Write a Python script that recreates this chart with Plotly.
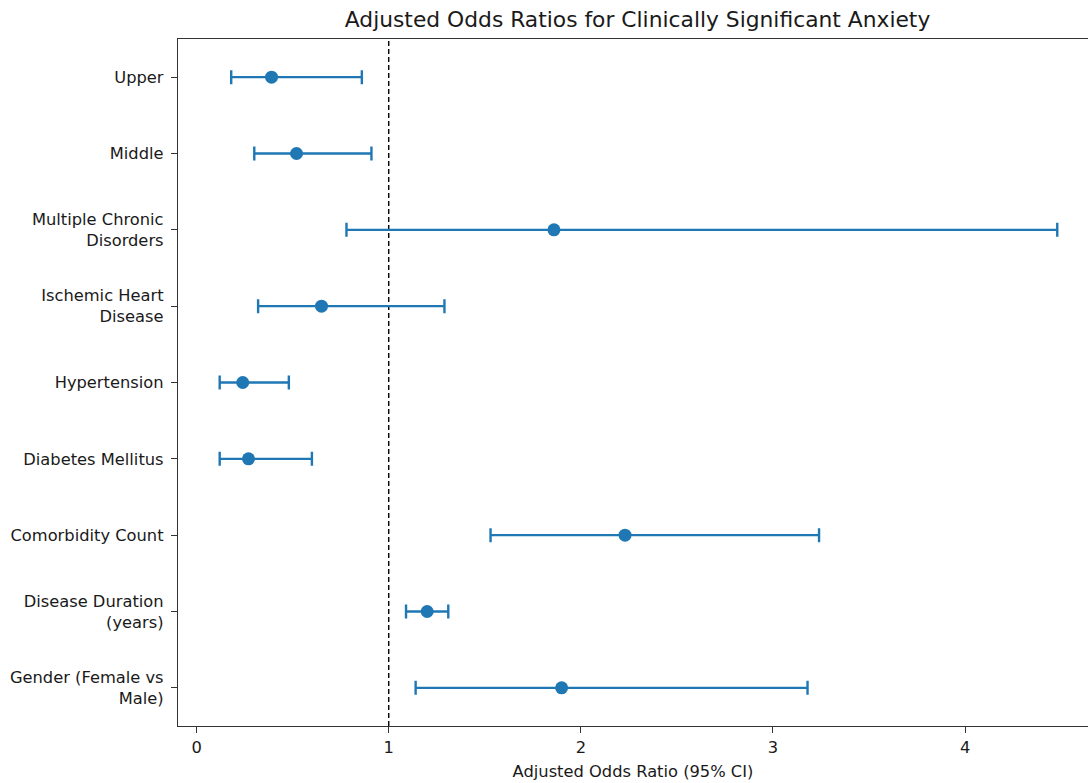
import plotly.graph_objects as go

# Data (top to bottom as displayed)
labels = ["Upper", "Middle", "Multiple Chronic<br>Disorders", "Ischemic Heart<br>Disease",
          "Hypertension", "Diabetes Mellitus", "Comorbidity Count",
          "Disease Duration<br>(years)", "Gender (Female vs<br>Male)"]
odds_ratio = [0.39, 0.52, 1.86, 0.65, 0.24, 0.27, 2.23, 1.20, 1.90]
ci_lower = [0.18, 0.30, 0.78, 0.32, 0.12, 0.12, 1.53, 1.09, 1.14]
ci_upper = [0.86, 0.91, 4.48, 1.29, 0.48, 0.60, 3.24, 1.31, 3.18]

n = len(labels)
ypos = [n - 1 - i for i in range(n)]
err_plus = [u - o for u, o in zip(ci_upper, odds_ratio)]
err_minus = [o - l for o, l in zip(odds_ratio, ci_lower)]

color = "#1f77b4"
font_family = "DejaVu Sans, Liberation Sans, sans-serif"

fig = go.Figure()
fig.add_trace(go.Scatter(
    x=odds_ratio, y=ypos, mode="markers",
    marker=dict(color=color, size=13),
    error_x=dict(type="data", symmetric=False, array=err_plus, arrayminus=err_minus,
                 color=color, thickness=2.4, width=7),
    showlegend=False,
))

fig.add_shape(type="line", xref="x", yref="paper", x0=1, x1=1, y0=0, y1=1,
              line=dict(color="black", width=1.4, dash="5px,3px"), layer="below")

fig.update_layout(
    width=1088, height=783,
    margin=dict(l=178, r=0, t=39, b=57),
    plot_bgcolor="white", paper_bgcolor="white",
    font=dict(family=font_family, size=16.3, color="#1a1a1a"),
    title=dict(text="Adjusted Odds Ratios for Clinically Significant Anxiety",
               xref="paper", x=0.505, xanchor="center",
               yref="container", y=0.975, yanchor="middle",
               font=dict(size=21.8, color="#1a1a1a")),
    xaxis=dict(range=[-0.097, 4.64], tickvals=[0, 1, 2, 3, 4], ticktext=["0", "1", "2", "3", "4"],
               showgrid=False, zeroline=False, showline=True, linecolor="#333333", linewidth=1.3,
               mirror=True, ticks="outside", ticklen=6, tickwidth=1.3, tickcolor="#333333",
               title=dict(text="Adjusted Odds Ratio (95% CI)", standoff=9, font=dict(size=16.3))),
    yaxis=dict(range=[-0.5, 8.5], tickvals=ypos, ticktext=labels,
               showgrid=False, zeroline=False, showline=True, linecolor="#333333", linewidth=1.3,
               mirror=False, ticks="outside", ticklen=6, tickwidth=1.3, tickcolor="#333333",
               ticklabelstandoff=4),
)

fig.write_html(
    "out.html",
    config={"displayModeBar": False},
    post_script="document.body.style.margin='0px';document.body.style.overflow='hidden';",
)
